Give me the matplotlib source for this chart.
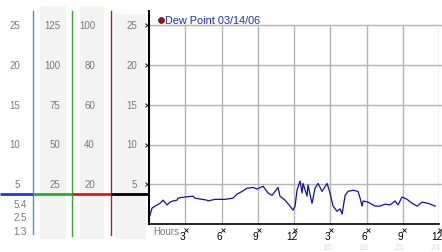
import numpy as np
import matplotlib
matplotlib.use('Agg')
from matplotlib import pyplot as plt
from matplotlib.patches import Rectangle
from matplotlib.transforms import blended_transform_factory

plt.rcParams['font.family'] = ['Liberation Sans', 'DejaVu Sans']

# dew point readings over the day (hours since midnight)
hours = [0.08, 0.25, 0.5, 0.91, 1.16, 1.49, 1.74, 1.99, 2.32, 2.4, 2.98, 3.64, 3.81,
         4.8, 4.88, 5.46, 6.04, 6.29, 6.95, 7.28, 7.7, 8.11, 8.61, 8.94, 9.44, 9.85,
         10.18, 10.43, 10.68, 10.84, 11.26, 11.67, 11.92, 12.09, 12.25, 12.5, 12.67,
         12.75, 13.08, 13.16, 13.49, 13.74, 13.99, 14.32, 14.74, 14.98, 15.23, 15.56,
         15.81, 15.98, 16.23, 16.47, 16.89, 17.3, 17.47, 17.63, 17.72, 18.13, 18.71,
         19.12, 19.54, 19.95, 20.36, 20.61, 20.94, 21.36, 21.77, 22.19, 22.6, 23.1, 23.68]
dewpoint = [1.1, 2.0, 2.25, 2.6, 3.0, 2.4, 2.75, 2.9, 3.0, 3.25, 3.4, 3.5, 3.25,
            3.0, 2.9, 3.1, 3.1, 3.1, 3.25, 3.75, 4.1, 4.5, 4.6, 4.4, 4.75, 3.9,
            3.6, 4.1, 4.6, 3.5, 3.0, 2.25, 1.75, 2.25, 4.25, 5.4, 3.9,
            5.1, 3.5, 4.9, 2.6, 4.5, 5.1, 4.1, 5.1, 3.9, 2.25, 1.6,
            1.9, 1.25, 3.6, 4.1, 4.25, 4.1, 3.25, 2.25, 2.9, 2.75, 2.25,
            2.25, 2.5, 2.4, 2.9, 2.4, 3.4, 3.1, 2.6, 2.25, 2.75, 2.6, 2.25]

y_ticks = [5, 10, 15, 20, 25]
col1_labels = ['5', '10', '15', '20', '25']
col2_labels = ['25', '50', '75', '100', '125']
col3_labels = ['20', '40', '60', '80', '100']
col4_labels = ['5', '10', '15', '20', '25']
col1_extra = ['5.4', '2.5', '1.3']
hour_ticks = [3, 6, 9, 12, 15, 18, 21, 24]
hour_labels = ['3', '6', '9', '12', '3', '6', '9', '12']
hour_faint = ['', '', '', '', '15', '18', '21', '24']
current = 3.75
legend_text = 'Dew Point 03/14/06'

W, H = 442, 253
fig = plt.figure(figsize=(W / 100, H / 100), dpi=100)

# background layer in pixel coordinates for the side scales
bg = fig.add_axes([0, 0, 1, 1])
bg.set_xlim(0, W)
bg.set_ylim(H, 0)
bg.axis('off')

ax = fig.add_axes([149 / W, (H - 225) / H, 290 / W, 213 / H])
ax.set_facecolor('none')
ax.set_xlim(0, 24)
ax.set_ylim(0, 213 / 7.95)

mix = blended_transform_factory(bg.transData, ax.transData)
grey_txt = '#7a7a7a'

# shaded columns
for x0, x1, top in [(40, 66, 7), (80, 104, 7), (115, 146, 15)]:
    bg.add_patch(Rectangle((x0, top), x1 - x0, 240 - top, color='#f3f3f3', lw=0))

# coloured separators
bg.plot([33, 33], [12, 235], color='#3a9ccc', lw=1.0)
bg.plot([72, 72], [12, 237], color='#33a833', lw=1.0)
bg.plot([111, 111], [12, 236], color='#b02020', lw=1.0)

# current value line across the scales
for x0, x1, c in [(0, 33, '#1a3cd0'), (33, 72, '#28b028'), (72, 111, '#e01818'), (111, 149, 'black')]:
    bg.plot([x0, x1], [current, current], transform=mix, color=c, lw=2.0, solid_capstyle='butt')

for v, a, b, c, d in zip(y_ticks, col1_labels, col2_labels, col3_labels, col4_labels):
    bg.text(20, v, a, transform=mix, ha='right', va='center', fontsize=7, color=grey_txt)
    bg.text(60, v, b, transform=mix, ha='right', va='center', fontsize=7, color=grey_txt)
    bg.text(95, v, c, transform=mix, ha='right', va='center', fontsize=7, color=grey_txt)
    bg.text(137, v, d, transform=mix, ha='right', va='center', fontsize=7, color=grey_txt)

for lab, yp in zip(col1_extra, [205, 218, 232]):
    bg.text(27, yp, lab, ha='right', va='center', fontsize=7, color=grey_txt)

# legend
bg.plot([161], [20.5], 'o', color='#9a1010', markersize=4.2, markeredgecolor='#500000', markeredgewidth=0.5)
bg.text(165, 20.5, legend_text, ha='left', va='center', fontsize=7.8, color='#1a30c0')

# grid
ax.vlines(hour_ticks, 0, 25, color='#b4b4b4', lw=1.0)
ax.hlines(y_ticks, 0, 24.25, color='#b4b4b4', lw=1.0, clip_on=False)

ax.plot(hours, dewpoint, color='#1010a8', lw=0.9)

# small tick glyphs
ax.plot([-0.17] * len(y_ticks), y_ticks, 'x', color='black', markersize=2.2, mew=0.6, clip_on=False)
tick_x = [h + 0.1 for h in hour_ticks]
ax.plot(tick_x, [-0.75] * len(hour_ticks), 'x', color='black', markersize=2.2, mew=0.6, clip_on=False)

for h, lab, faint in zip(hour_ticks, hour_labels, hour_faint):
    ax.text(h - 0.2, -1.57, lab, ha='center', va='center', fontsize=7.3, color='black', clip_on=False)
    if faint:
        ax.text(h - 0.25, -2.77, faint, ha='center', va='center', fontsize=6.5, color='#dedede', clip_on=False)
ax.text(0.33, -0.9, 'Hours', ha='left', va='center', fontsize=7, color=grey_txt, clip_on=False)

ax.set_xticks([])
ax.set_yticks([])
ax.spines['top'].set_visible(False)
ax.spines['right'].set_visible(False)
ax.spines['left'].set_linewidth(1.5)
ax.spines['bottom'].set_linewidth(1.2)

fig.savefig('out.png', dpi=100)
